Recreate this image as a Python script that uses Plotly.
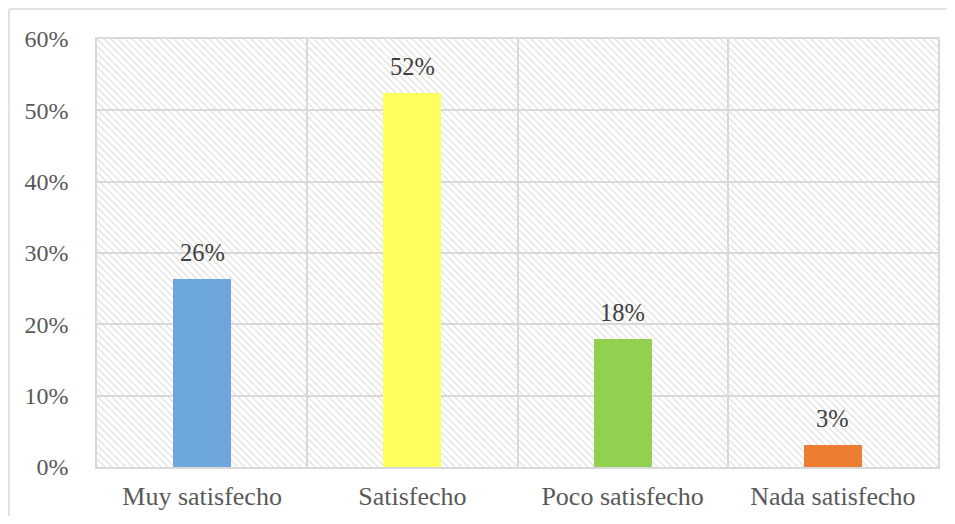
import plotly.graph_objects as go
import base64

categories = ["Muy satisfecho", "Satisfecho", "Poco satisfecho", "Nada satisfecho"]
values = [0.264, 0.524, 0.179, 0.031]
colors = ["#6CA6DC", "#FFFF5E", "#92D050", "#ED7D31"]
y_ticks = [0, 0.1, 0.2, 0.3, 0.4, 0.5, 0.6]

FONT = "Liberation Serif, Times New Roman, serif"

svg = (
    '<svg xmlns="http://www.w3.org/2000/svg" width="841" height="428">'
    '<defs><pattern id="p" patternUnits="userSpaceOnUse" width="7" height="7">'
    '<path d="M-1,-1 L8,8 M-1,6 L1,8 M6,-1 L8,1" stroke="#dedede" stroke-width="1.2"/>'
    '</pattern></defs><rect width="841" height="428" fill="url(#p)"/></svg>'
)
img = "data:image/svg+xml;base64," + base64.b64encode(svg.encode()).decode()

fig = go.Figure()
fig.add_trace(go.Bar(
    x=categories, y=values, width=0.276,
    marker=dict(color=colors, line=dict(width=0)),
    hoverinfo="skip",
))

for c, v in zip(categories, values):
    fig.add_annotation(
        x=c, y=v, text=f"{round(v*100)}%", showarrow=False,
        yanchor="bottom", yshift=11,
        font=dict(family=FONT, size=24.5, color="#404040"),
    )

fig.add_layout_image(dict(
    source=img, xref="paper", yref="paper", x=0, y=1, sizex=1, sizey=1,
    sizing="stretch", xanchor="left", yanchor="top", layer="below",
))

# outer chart border (top and left edges visible in the frame)
fig.add_shape(type="line", xref="paper", yref="paper",
              x0=-0.1046, x1=1.2, y0=1.070, y1=1.070,
              line=dict(color="#d9d9d9", width=1.5), layer="below")
fig.add_shape(type="line", xref="paper", yref="paper",
              x0=-0.1046, x1=-0.1046, y0=-0.5, y1=1.070,
              line=dict(color="#d9d9d9", width=1.5), layer="below")

fig.update_layout(
    width=939, height=508,
    margin=dict(l=89, r=9, t=31, b=49, autoexpand=False),
    paper_bgcolor="white", plot_bgcolor="white",
    showlegend=False,
    font=dict(family=FONT, size=24, color="#595959"),
    bargap=0,
)
fig.update_xaxes(
    type="category", tickson="boundaries", showgrid=True,
    gridcolor="#d9d9d9", gridwidth=1.5,
    showline=True, linecolor="#d9d9d9", linewidth=1.5, mirror=True,
    ticks="", ticklabelstandoff=5, automargin=False,
    tickfont=dict(family=FONT, size=26, color="#595959"),
)
fig.update_yaxes(
    range=[0, 0.6], tickvals=y_ticks, tickformat=".0%",
    showgrid=True, gridcolor="#d9d9d9", gridwidth=1.5,
    showline=True, linecolor="#d9d9d9", linewidth=1.5, mirror=True,
    zeroline=False, ticks="", ticklabelstandoff=22, automargin=False,
    tickfont=dict(family=FONT, size=24, color="#595959"),
)

fig.write_html("out.html")
